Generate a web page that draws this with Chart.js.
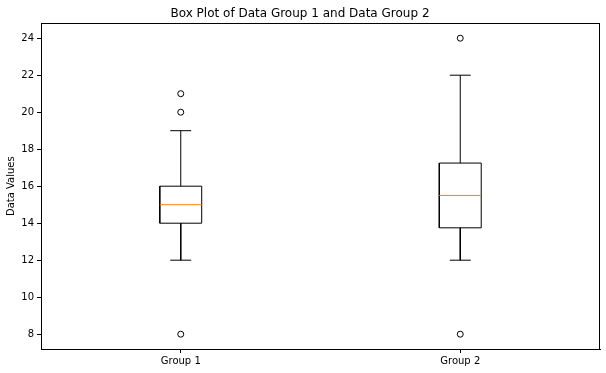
<!DOCTYPE html>
<html>
<head>
<meta charset="utf-8">
<script src="https://cdn.jsdelivr.net/npm/chart.js@4/dist/chart.umd.min.js"></script>
<style>
html,body{margin:0;padding:0;background:#fff;}
#wrap{width:606px;height:373px;position:relative;}
</style>
</head>
<body>
<div id="wrap"><canvas id="c" width="606" height="373"></canvas></div>
<script>
// ---- data ----
const categories = ['Group 1', 'Group 2'];
const positions = [1, 2];
const whiskerLow = [12, 12];
const q1 = [14, 13.75];
const medians = [15, 15.5];
const q3 = [16, 17.25];
const whiskerHigh = [19, 22];
const outliers = [[21, 20, 8], [24, 8]];
const yTicks = [8, 10, 12, 14, 16, 18, 20, 22, 24];

// ---- style constants ----
const BOX_HALF = 0.075;
const CAP_HALF = 0.0375;

function seg(a, b, i) {
  return {
    type: 'line',
    data: [a, b],
    borderColor: '#000',
    borderWidth: 1,
    pointRadius: 0,
    fill: false,
    order: 2
  };
}

const lineDatasets = positions.flatMap((p, i) => [
  // box outline
  {
    type: 'line',
    label: categories[i] + ' box',
    data: [
      {x: p - BOX_HALF, y: q1[i]}, {x: p + BOX_HALF, y: q1[i]},
      {x: p + BOX_HALF, y: q3[i]}, {x: p - BOX_HALF, y: q3[i]},
      {x: p - BOX_HALF, y: q1[i]}
    ],
    borderColor: '#000', borderWidth: 1, pointRadius: 0, fill: false, order: 2
  },
  seg({x: p, y: q1[i]}, {x: p, y: whiskerLow[i]}),
  seg({x: p, y: q3[i]}, {x: p, y: whiskerHigh[i]}),
  seg({x: p - CAP_HALF, y: whiskerLow[i]}, {x: p + CAP_HALF, y: whiskerLow[i]}),
  seg({x: p - CAP_HALF, y: whiskerHigh[i]}, {x: p + CAP_HALF, y: whiskerHigh[i]}),
  {
    type: 'line',
    label: categories[i] + ' median',
    data: [{x: p - BOX_HALF, y: medians[i]}, {x: p + BOX_HALF, y: medians[i]}],
    borderColor: '#ff7f0e', borderWidth: 1, pointRadius: 0, fill: false, order: 1
  }
]);

const outlierDataset = {
  type: 'scatter',
  label: 'outliers',
  data: positions.flatMap((p, i) => outliers[i].map(v => ({x: p, y: v}))),
  pointStyle: 'circle',
  pointRadius: 3,
  pointBorderColor: '#000',
  pointBackgroundColor: 'rgba(255,255,255,0)',
  pointBorderWidth: 1,
  showLine: false,
  order: 0
};

const frame = {
  id: 'frame',
  afterDraw(chart) {
    const a = chart.chartArea, ctx = chart.ctx;
    ctx.save();
    ctx.strokeStyle = '#000';
    ctx.lineWidth = 1;
    ctx.strokeRect(Math.round(a.left) + 0.5, Math.round(a.top) + 0.5,
      Math.round(a.right - a.left) - 1, Math.round(a.bottom - a.top));
    ctx.restore();
  }
};

Chart.defaults.font.family = 'DejaVu Sans';
Chart.defaults.color = '#000';

new Chart(document.getElementById('c'), {
  type: 'scatter',
  data: { datasets: [...lineDatasets, outlierDataset] },
  options: {
    responsive: false,
    animation: false,
    devicePixelRatio: 1,
    layout: { padding: { left: 0, right: 6, top: 0, bottom: 0 } },
    plugins: {
      legend: { display: false },
      tooltip: { enabled: false },
      title: {
        display: true,
        text: 'Box Plot of Data Group 1 and Data Group 2',
        color: '#000',
        font: { size: 12, weight: 'normal', family: 'DejaVu Sans' },
        padding: { top: 7, bottom: 2 }
      }
    },
    scales: {
      x: {
        type: 'linear',
        min: 0.5, max: 2.5,
        afterBuildTicks: s => { s.ticks = positions.map(v => ({value: v})); },
        afterFit: s => { s.height = 24; },
        ticks: {
          callback: (v) => categories[positions.indexOf(v)],
          font: { size: 10 }, color: '#000', padding: 2, maxRotation: 0
        },
        grid: { drawOnChartArea: false, drawTicks: true, tickLength: 4, color: '#000' },
        border: { display: true, color: '#000', width: 1 }
      },
      y: {
        type: 'linear',
        min: 7.2, max: 24.8,
        afterBuildTicks: s => { s.ticks = yTicks.map(v => ({value: v})); },
        afterFit: s => { s.width = 41; },
        ticks: { font: { size: 10 }, color: '#000', padding: 3 },
        grid: { drawOnChartArea: false, drawTicks: true, tickLength: 4, color: '#000' },
        border: { display: true, color: '#000', width: 1 },
        title: {
          display: true, text: 'Data Values', color: '#000',
          font: { size: 10 }, padding: { top: 5, bottom: 0 }
        }
      }
    }
  },
  plugins: [frame]
});
</script>
</body>
</html>
